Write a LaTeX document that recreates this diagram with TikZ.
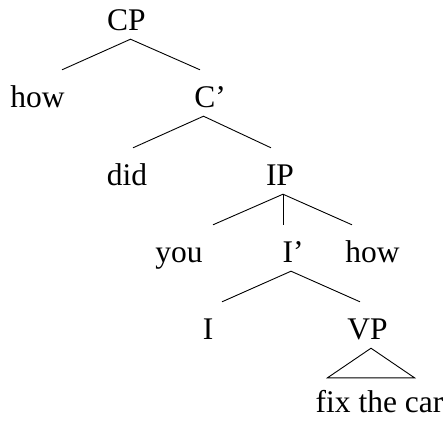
\documentclass[tikz,border=0pt]{standalone}
\usepackage{fontspec}
\setmainfont{Liberation Serif}
\usepackage{tikz}
\tikzset{
  cat/.style={anchor=base, inner xsep=0pt, inner ysep=2pt,
    text height=35pt, text depth=7pt, font=\fontsize{31.5}{36}\selectfont},
  branch/.style={line width=0.9pt}
}

\begin{document}
\begin{tikzpicture}[x=1pt, y=-1pt]
      \useasboundingbox (0,0) rectangle (446,421);
      % Labels, row by row
      \node[cat] (CP) at (126.5,30) {CP};
      \node[cat] (how) at (37.5,107) {how};
      \node[cat] (Cbar) at (210,107) {C’};
      \node[cat] (did) at (127,185) {did};
      \node[cat] (IP) at (280,185) {IP};
      \node[cat] (you) at (179,262) {you};
      \node[cat] (Ibar) at (293,262) {I’};
      \node[cat] (howt) at (372.5,262) {how};
      \node[cat] (I) at (208,339) {I};
      \node[cat] (VP) at (367.5,339) {VP};
      \node[cat] (fix) at (379.5,412) {fix the car};
      % Branches
      \draw[branch] ([xshift=24.5pt]how.north) -- ([xshift=4pt]CP.south) -- ([xshift=-10pt]Cbar.north);
      \draw[branch] ([xshift=6pt]did.north) -- ([xshift=-6.5pt]Cbar.south) -- ([xshift=-9pt]IP.north);
      \draw[branch] ([xshift=34pt]you.north) -- ([xshift=3pt]IP.south) -- ([xshift=-20.5pt]howt.north);
      \draw[branch] ([xshift=3pt]IP.south) -- ([xshift=-10pt]Ibar.north);
      \draw[branch] ([xshift=14pt]I.north) -- ([xshift=-2pt]Ibar.south) -- ([xshift=-7.5pt]VP.north);
      % Triangle over the VP
      \draw[branch] ([xshift=3.5pt]VP.south) -- ([xshift=12pt,yshift=-3pt]fix.north west)
        -- ([xshift=-29pt,yshift=-3pt]fix.north east) -- cycle;
\end{tikzpicture}
\end{document}
